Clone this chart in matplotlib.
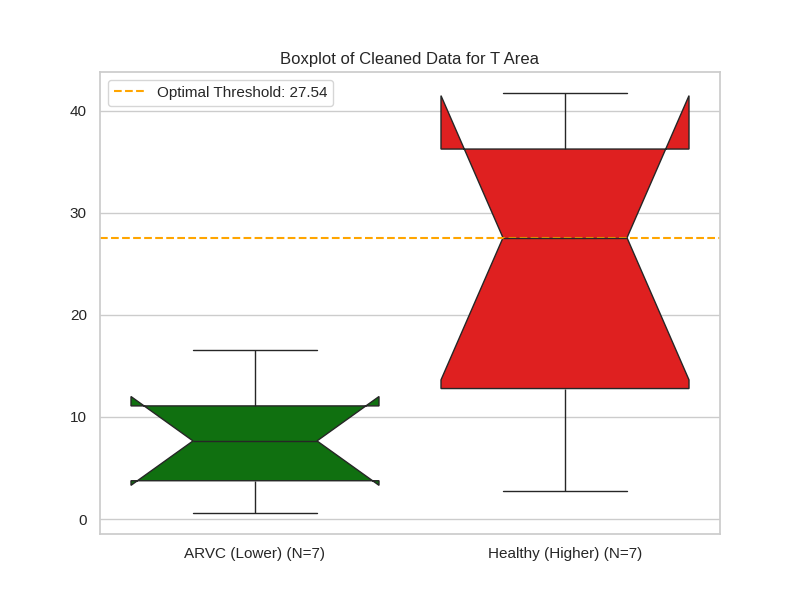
import numpy as np
import pandas as pd
import matplotlib
matplotlib.use("Agg")
import matplotlib.pyplot as plt
import seaborn as sns

# Cleaned T Area values per group
arvc_values = [0.59, 2.60, 4.90, 7.65, 9.90, 12.26, 16.57]
healthy_values = [2.75, 9.80, 15.76, 27.55, 33.90, 38.58, 41.73]
group_labels = ["ARVC (Lower) (N=7)", "Healthy (Higher) (N=7)"]
group_colors = ["green", "red"]
threshold = 27.54

df = pd.DataFrame({
    "Group": [group_labels[0]] * len(arvc_values) + [group_labels[1]] * len(healthy_values),
    "T Area": arvc_values + healthy_values,
})

sns.set_theme(style="whitegrid")
plt.rcParams["font.family"] = ["Liberation Sans", "DejaVu Sans"]

fig, ax = plt.subplots(figsize=(8, 6), dpi=100)
sns.boxplot(data=df, x="Group", y="T Area", hue="Group", palette=group_colors,
            notch=True, legend=False, ax=ax)

ax.axhline(threshold, color="orange", linestyle="--", label=f"Optimal Threshold: {threshold:.2f}")

ax.set_title("Boxplot of Cleaned Data for T Area")
ax.set_xlabel("")
ax.set_ylabel("")
ax.legend(loc="upper left")

plt.savefig("out.png", dpi=100)
